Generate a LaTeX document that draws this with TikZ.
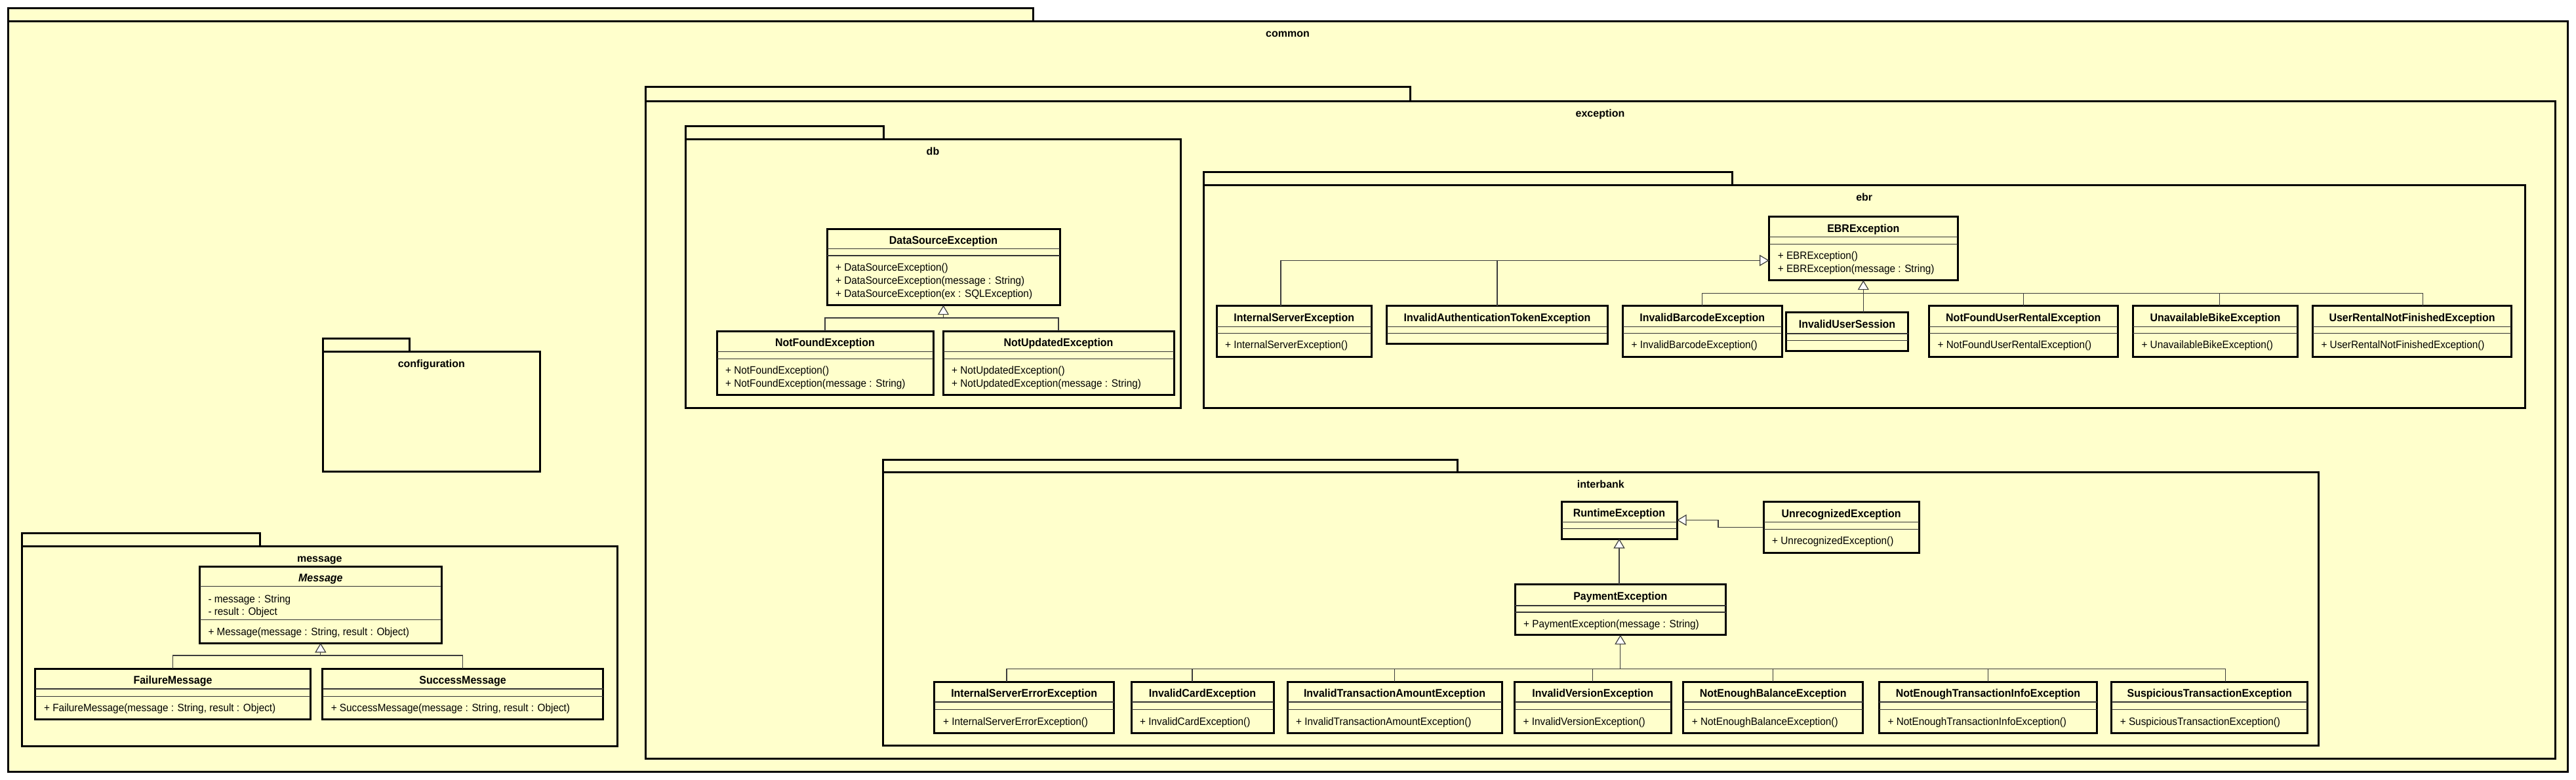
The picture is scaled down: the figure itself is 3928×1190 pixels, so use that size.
\documentclass[tikz,border=0pt]{standalone}
\usepackage{fontspec}
\setmainfont{Liberation Sans}
\newfontfamily\clsfont{Liberation Sans}[FakeStretch=0.94]
\usetikzlibrary{arrows.meta,fit}
\definecolor{pkgfill}{RGB}{255,255,204}
\definecolor{lnk}{RGB}{60,60,60}
\tikzset{
  pkgbox/.style={draw=black, line width=3pt, fill=pkgfill},
  pkgbody/.style={pkgbox, inner sep=0pt, outer sep=0pt},
  pkglabel/.style={inner sep=0pt, anchor=base, font=\fontsize{16}{19}\selectfont\bfseries},
  classbox/.style={draw=black, line width=3pt, fill=pkgfill, inner sep=0pt, outer sep=0pt},
  sepline/.style={draw=black!80, line width=1.2pt},
  clsname/.style={inner sep=0pt, anchor=base, font=\clsfont\fontsize{17}{20}\selectfont\bfseries},
  member/.style={inner sep=0pt, anchor=base west, font=\clsfont\fontsize{16.3}{20}\selectfont},
  conn/.style={draw=lnk, line width=1.2pt},
  inh/.style={conn, -{Triangle[length=14.5pt, width=17pt, fill=white]}},
}
% #1 id, #2 x1, #3 y1, #4 x2, #5 y2, #6 sep1, #7 sep2, #8 title
\newcommand{\umlclass}[8]{%
  \node[classbox, fit={(#2,#3) (#4,#5)}] (#1) {};
  \draw[sepline] (#2,#6) -- (#4,#6);
  \draw[sepline] (#2,#7) -- (#4,#7);
  \node[clsname] (#1-name) at ({(#2+#4)/2},{#3+23.5}) {#8};
}
% #1 id, #2 box left x, #3 baseline y, #4 text
\newcommand{\umlmember}[4]{\node[member] (#1) at ({#2+13},{#3}) {#4};}
% #1 id, tab x1 y1 x2 y2(=body top), body x2 y2, label
\newcommand{\umlpkg}[8]{%
  \draw[pkgbox] (#2,#3) rectangle (#4,#5);
  \node[pkgbody, fit={(#2,#5) (#6,#7)}] (#1) {};
  \node[pkglabel] (#1-label) at ({(#2+#6)/2},{#5+24}) {#8};
}
\begin{document}
\begin{tikzpicture}[x=1pt,y=-1pt]
\fill[white] (0,0) rectangle (3928,1190);
\useasboundingbox (0,0) rectangle (3928,1190);

% packages
\umlpkg{common}{12}{12.7}{1575}{32.7}{3915}{1177.7}{common}
\umlpkg{configuration}{492}{516}{624.7}{536}{823.7}{719.3}{configuration}
\umlpkg{message}{33.7}{813.3}{396.7}{833}{941}{1138.3}{message}
\umlpkg{exception}{984}{133}{2150}{155}{3896}{1157}{exception}
\umlpkg{db}{1045}{192.3}{1347}{212.3}{1800}{622.7}{db}
\umlpkg{ebr}{1835.4}{262.3}{2641.5}{282.3}{3850}{622.3}{ebr}
\umlpkg{interbank}{1346.6}{701}{2222}{720.3}{3535}{1137}{interbank}

% db classes
\umlclass{ds}{1261}{349.3}{1616}{465.7}{379.3}{390}{DataSourceException}
\umlmember{ds-m1}{1261}{413.5}{+ DataSourceException()}
\umlmember{ds-m2}{1261}{433.5}{+ DataSourceException(message : String)}
\umlmember{ds-m3}{1261}{453.5}{+ DataSourceException(ex : SQLException)}
\umlclass{nf}{1093}{505}{1423}{602.7}{536.7}{547.3}{NotFoundException}
\umlmember{nf-m1}{1093}{570.8}{+ NotFoundException()}
\umlmember{nf-m2}{1093}{590.8}{+ NotFoundException(message : String)}
\umlclass{nu}{1438}{505}{1790}{602.7}{536.7}{547.3}{NotUpdatedException}
\umlmember{nu-m1}{1438}{570.8}{+ NotUpdatedException()}
\umlmember{nu-m2}{1438}{590.8}{+ NotUpdatedException(message : String)}

% ebr classes
\umlclass{ebrx}{2697.6}{331}{2985}{427.7}{361.7}{372.3}{EBRException}
\umlmember{ebrx-m1}{2697.6}{395.8}{+ EBRException()}
\umlmember{ebrx-m2}{2697.6}{415.8}{+ EBRException(message : String)}
\umlclass{ise}{1855}{466.7}{2091.5}{544}{498.3}{508.3}{InternalServerException}
\umlmember{ise-m1}{1855}{531.8}{+ InternalServerException()}
\umlclass{iat}{2114.6}{466.7}{2451.4}{524}{498.3}{508.8}{InvalidAuthenticationTokenException}
\umlclass{ibe}{2474.5}{466.7}{2717}{544}{498.3}{508.3}{InvalidBarcodeException}
\umlmember{ibe-m1}{2474.5}{531.8}{+ InvalidBarcodeException()}
\umlclass{ius}{2723.5}{476.7}{2909.5}{535}{509}{519.3}{InvalidUserSession}
\umlclass{nfur}{2941.5}{466.7}{3229}{544}{498.3}{508.3}{NotFoundUserRentalException}
\umlmember{nfur-m1}{2941.5}{531.8}{+ NotFoundUserRentalException()}
\umlclass{ube}{3252.3}{466.7}{3503.6}{544}{498.3}{508.3}{UnavailableBikeException}
\umlmember{ube-m1}{3252.3}{531.8}{+ UnavailableBikeException()}
\umlclass{urnf}{3526.3}{466.7}{3829.8}{544}{498.3}{508.3}{UserRentalNotFinishedException}
\umlmember{urnf-m1}{3526.3}{531.8}{+ UserRentalNotFinishedException()}

% interbank classes
\umlclass{rte}{2381}{765}{2557}{822}{796.7}{806.7}{RuntimeException}
\umlclass{ure}{2689}{765.7}{2926}{843}{796.7}{807.3}{UnrecognizedException}
\umlmember{ure-m1}{2689}{830.8}{+ UnrecognizedException()}
\umlclass{pay}{2310}{891.7}{2631.6}{968.7}{924}{934}{PaymentException}
\umlmember{pay-m1}{2310}{957.5}{+ PaymentException(message : String)}
\umlclass{isee}{1424.9}{1040}{1698.5}{1118.3}{1071}{1082.7}{InternalServerErrorException}
\umlmember{isee-m1}{1424.9}{1106.2}{+ InternalServerErrorException()}
\umlclass{ice}{1725}{1040}{1942}{1118.3}{1071}{1082.7}{InvalidCardException}
\umlmember{ice-m1}{1725}{1106.2}{+ InvalidCardException()}
\umlclass{itae}{1963}{1040}{2290}{1118.3}{1071}{1082.7}{InvalidTransactionAmountException}
\umlmember{itae-m1}{1963}{1106.2}{+ InvalidTransactionAmountException()}
\umlclass{ive}{2309.5}{1040}{2548}{1118.3}{1071}{1082.7}{InvalidVersionException}
\umlmember{ive-m1}{2309.5}{1106.2}{+ InvalidVersionException()}
\umlclass{nebe}{2566.7}{1040}{2840.6}{1118.3}{1071}{1082.7}{NotEnoughBalanceException}
\umlmember{nebe-m1}{2566.7}{1106.2}{+ NotEnoughBalanceException()}
\umlclass{neti}{2865.4}{1040}{3197.5}{1118.3}{1071}{1082.7}{NotEnoughTransactionInfoException}
\umlmember{neti-m1}{2865.4}{1106.2}{+ NotEnoughTransactionInfoException()}
\umlclass{ste}{3219.6}{1040}{3518.9}{1118.3}{1071}{1082.7}{SuspiciousTransactionException}
\umlmember{ste-m1}{3219.6}{1106.2}{+ SuspiciousTransactionException()}

% message classes
\umlclass{msg}{304.3}{864.3}{673.4}{981}{894.3}{945.7}{\itshape Message}
\umlmember{msg-a1}{304.3}{919}{- message : String}
\umlmember{msg-a2}{304.3}{938.5}{- result : Object}
\umlmember{msg-m1}{304.3}{969.7}{+ Message(message : String, result : Object)}
\umlclass{fm}{53.9}{1020}{473.2}{1097.7}{1051}{1062.3}{FailureMessage}
\umlmember{fm-m1}{53.9}{1085.8}{+ FailureMessage(message : String, result : Object)}
\umlclass{sm}{491.6}{1020}{919.5}{1097.7}{1051}{1062.3}{SuccessMessage}
\umlmember{sm-m1}{491.6}{1085.8}{+ SuccessMessage(message : String, result : Object)}

% connectors: db
\draw[conn] (nf.north) |- ([yshift=-19.3pt]ds.south);
\draw[conn] (nu.north) |- ([yshift=-19.3pt]ds.south);
\draw[inh] ([yshift=-19.3pt]ds.south) -- (ds.south);

% connectors: ebr
\draw[conn] (iat.north) |- ([yshift=-18pt]ebrx.west);
\draw[inh] ([xshift=-20.2pt]ise.north) |- ([yshift=-18pt]ebrx.west);
\draw[conn] (ibe.north) |- ([yshift=-19.6pt]ebrx.south);
\draw[conn] (nfur.north) |- ([yshift=-19.6pt]ebrx.south);
\draw[conn] ([xshift=6.6pt]ube.north) |- ([yshift=-19.6pt]ebrx.south);
\draw[conn] ([xshift=16.8pt]urnf.north) |- ([yshift=-19.6pt]ebrx.south);
\draw[inh] (ius.north -| ebrx.south) -- (ebrx.south);

% connectors: interbank
\draw[inh] (ure.west) -- ++(-69,0) |- (rte.east);
\draw[inh] (pay.north -| rte.south) -- (rte.south);
\draw[conn] ([xshift=-26.7pt]isee.north) |- ([yshift=-52pt]pay.south);
\draw[conn] ([xshift=-15.5pt]ice.north) |- ([yshift=-52pt]pay.south);
\draw[conn] (itae.north) |- ([yshift=-52pt]pay.south);
\draw[conn] (ive.north) |- ([yshift=-52pt]pay.south);
\draw[conn] (nebe.north) |- ([yshift=-52pt]pay.south);
\draw[conn] (neti.north) |- ([yshift=-52pt]pay.south);
\draw[conn] ([xshift=24pt]ste.north) |- ([yshift=-52pt]pay.south);
\draw[inh] ([yshift=-52pt]pay.south) -- (pay.south);

% connectors: message
\draw[conn] (fm.north) |- ([yshift=-19pt]msg.south);
\draw[conn] (sm.north) |- ([yshift=-19pt]msg.south);
\draw[inh] ([yshift=-19pt]msg.south) -- (msg.south);
\end{tikzpicture}
\end{document}
